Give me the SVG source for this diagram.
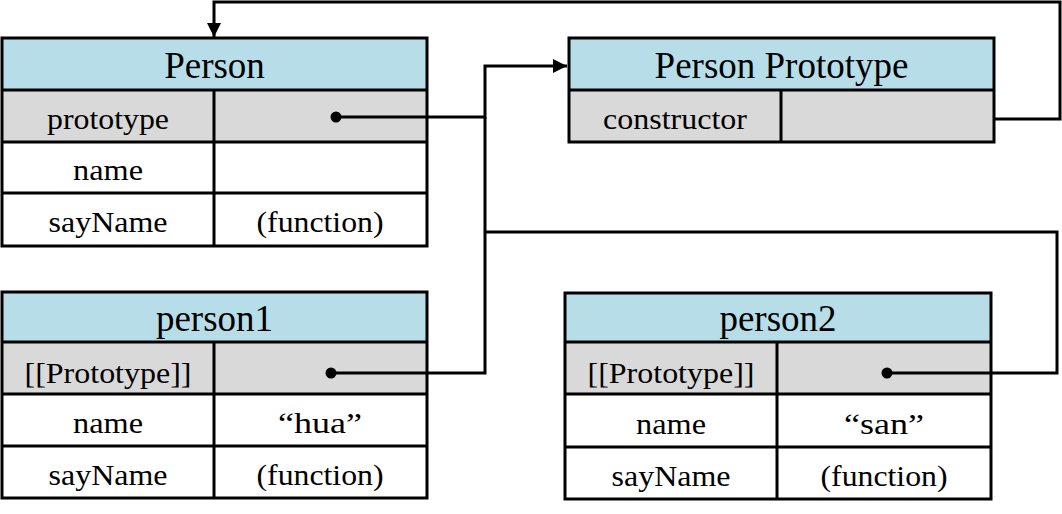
<svg xmlns="http://www.w3.org/2000/svg" width="1062" height="514" viewBox="0 0 1062 514">
<style>
.bg{fill:#ffffff}
.hd{fill:#b6dde8}
.gr{fill:#d9d9d9}
.ln{stroke:#000;stroke-width:3;fill:none}
.cn{stroke:#000;stroke-width:3;fill:none}
.t{font-family:"Liberation Serif","Times New Roman",serif;font-size:37px;fill:#000;text-anchor:middle}
.r{font-family:"Liberation Serif","Times New Roman",serif;font-size:29px;fill:#000;text-anchor:middle}
.dot{fill:#000}
</style>
<defs>
<marker id="arr" viewBox="0 0 14 14" refX="14" refY="7" markerWidth="14" markerHeight="14" markerUnits="userSpaceOnUse" orient="auto">
<path d="M0,0 L14,7 L0,14 z" fill="#000"/>
</marker>
</defs>
<rect width="1062" height="514" fill="#fff"/>

<g id="Person">
<rect class="bg" x="2" y="38" width="425" height="208"/>
<rect class="hd" x="2" y="38" width="425" height="52"/>
<rect class="gr" x="2" y="90" width="425" height="52"/>
<rect class="ln" x="2" y="38" width="425" height="208"/>
<path class="ln" d="M2,90H427M2,142H427M2,193H427M214,90V246"/>
<text class="t" x="214.5" y="78">Person</text>
<text class="r" x="108" y="129" textLength="122" lengthAdjust="spacingAndGlyphs">prototype</text>
<text class="r" x="108" y="180" textLength="70" lengthAdjust="spacingAndGlyphs">name</text>
<text class="r" x="108" y="232" textLength="119" lengthAdjust="spacingAndGlyphs">sayName</text>
<text class="r" x="320" y="232" textLength="127" lengthAdjust="spacingAndGlyphs">(function)</text>
<circle class="dot" cx="336" cy="117" r="5.5"/>
</g>

<g id="PersonPrototype">
<rect class="hd" x="569" y="38" width="425" height="52"/>
<rect class="gr" x="569" y="90" width="425" height="52"/>
<rect class="ln" x="569" y="38" width="425" height="104"/>
<path class="ln" d="M569,90H994M781,90V142"/>
<text class="t" x="781.5" y="78">Person Prototype</text>
<text class="r" x="675" y="129" textLength="144" lengthAdjust="spacingAndGlyphs">constructor</text>
</g>

<g id="person1">
<rect class="bg" x="2" y="292" width="425" height="206"/>
<rect class="hd" x="2" y="292" width="425" height="50"/>
<rect class="gr" x="2" y="342" width="425" height="52"/>
<rect class="ln" x="2" y="292" width="425" height="206"/>
<path class="ln" d="M2,342H427M2,394H427M2,446H427M214,342V498"/>
<text class="t" x="214.5" y="331">person1</text>
<text class="r" x="108" y="383" textLength="167" lengthAdjust="spacingAndGlyphs">[[Prototype]]</text>
<text class="r" x="108" y="433" textLength="70" lengthAdjust="spacingAndGlyphs">name</text>
<text class="r" x="320" y="433" textLength="84" lengthAdjust="spacingAndGlyphs">“hua”</text>
<text class="r" x="108" y="485" textLength="119" lengthAdjust="spacingAndGlyphs">sayName</text>
<text class="r" x="320" y="485" textLength="127" lengthAdjust="spacingAndGlyphs">(function)</text>
<circle class="dot" cx="331" cy="373" r="5.5"/>
</g>

<g id="person2">
<rect class="bg" x="565" y="293" width="426" height="206"/>
<rect class="hd" x="565" y="293" width="426" height="49"/>
<rect class="gr" x="565" y="342" width="426" height="52"/>
<rect class="ln" x="565" y="293" width="426" height="206"/>
<path class="ln" d="M565,342H991M565,394H991M565,447H991M777,342V499"/>
<text class="t" x="778" y="331">person2</text>
<text class="r" x="671" y="383" textLength="167" lengthAdjust="spacingAndGlyphs">[[Prototype]]</text>
<text class="r" x="671" y="434" textLength="70" lengthAdjust="spacingAndGlyphs">name</text>
<text class="r" x="884" y="434" textLength="80" lengthAdjust="spacingAndGlyphs">“san”</text>
<text class="r" x="671" y="486" textLength="119" lengthAdjust="spacingAndGlyphs">sayName</text>
<text class="r" x="884" y="486" textLength="127" lengthAdjust="spacingAndGlyphs">(function)</text>
<circle class="dot" cx="887" cy="373" r="5.5"/>
</g>

<g id="connectors">
<path class="cn" d="M336,117H485V66H567" marker-end="url(#arr)"/>
<path class="cn" d="M331,373H485V117"/>
<path class="cn" d="M887,373H1057V232H485"/>
<path class="cn" d="M994,119H1060V2H214V37" marker-end="url(#arr)"/>
</g>
</svg>
